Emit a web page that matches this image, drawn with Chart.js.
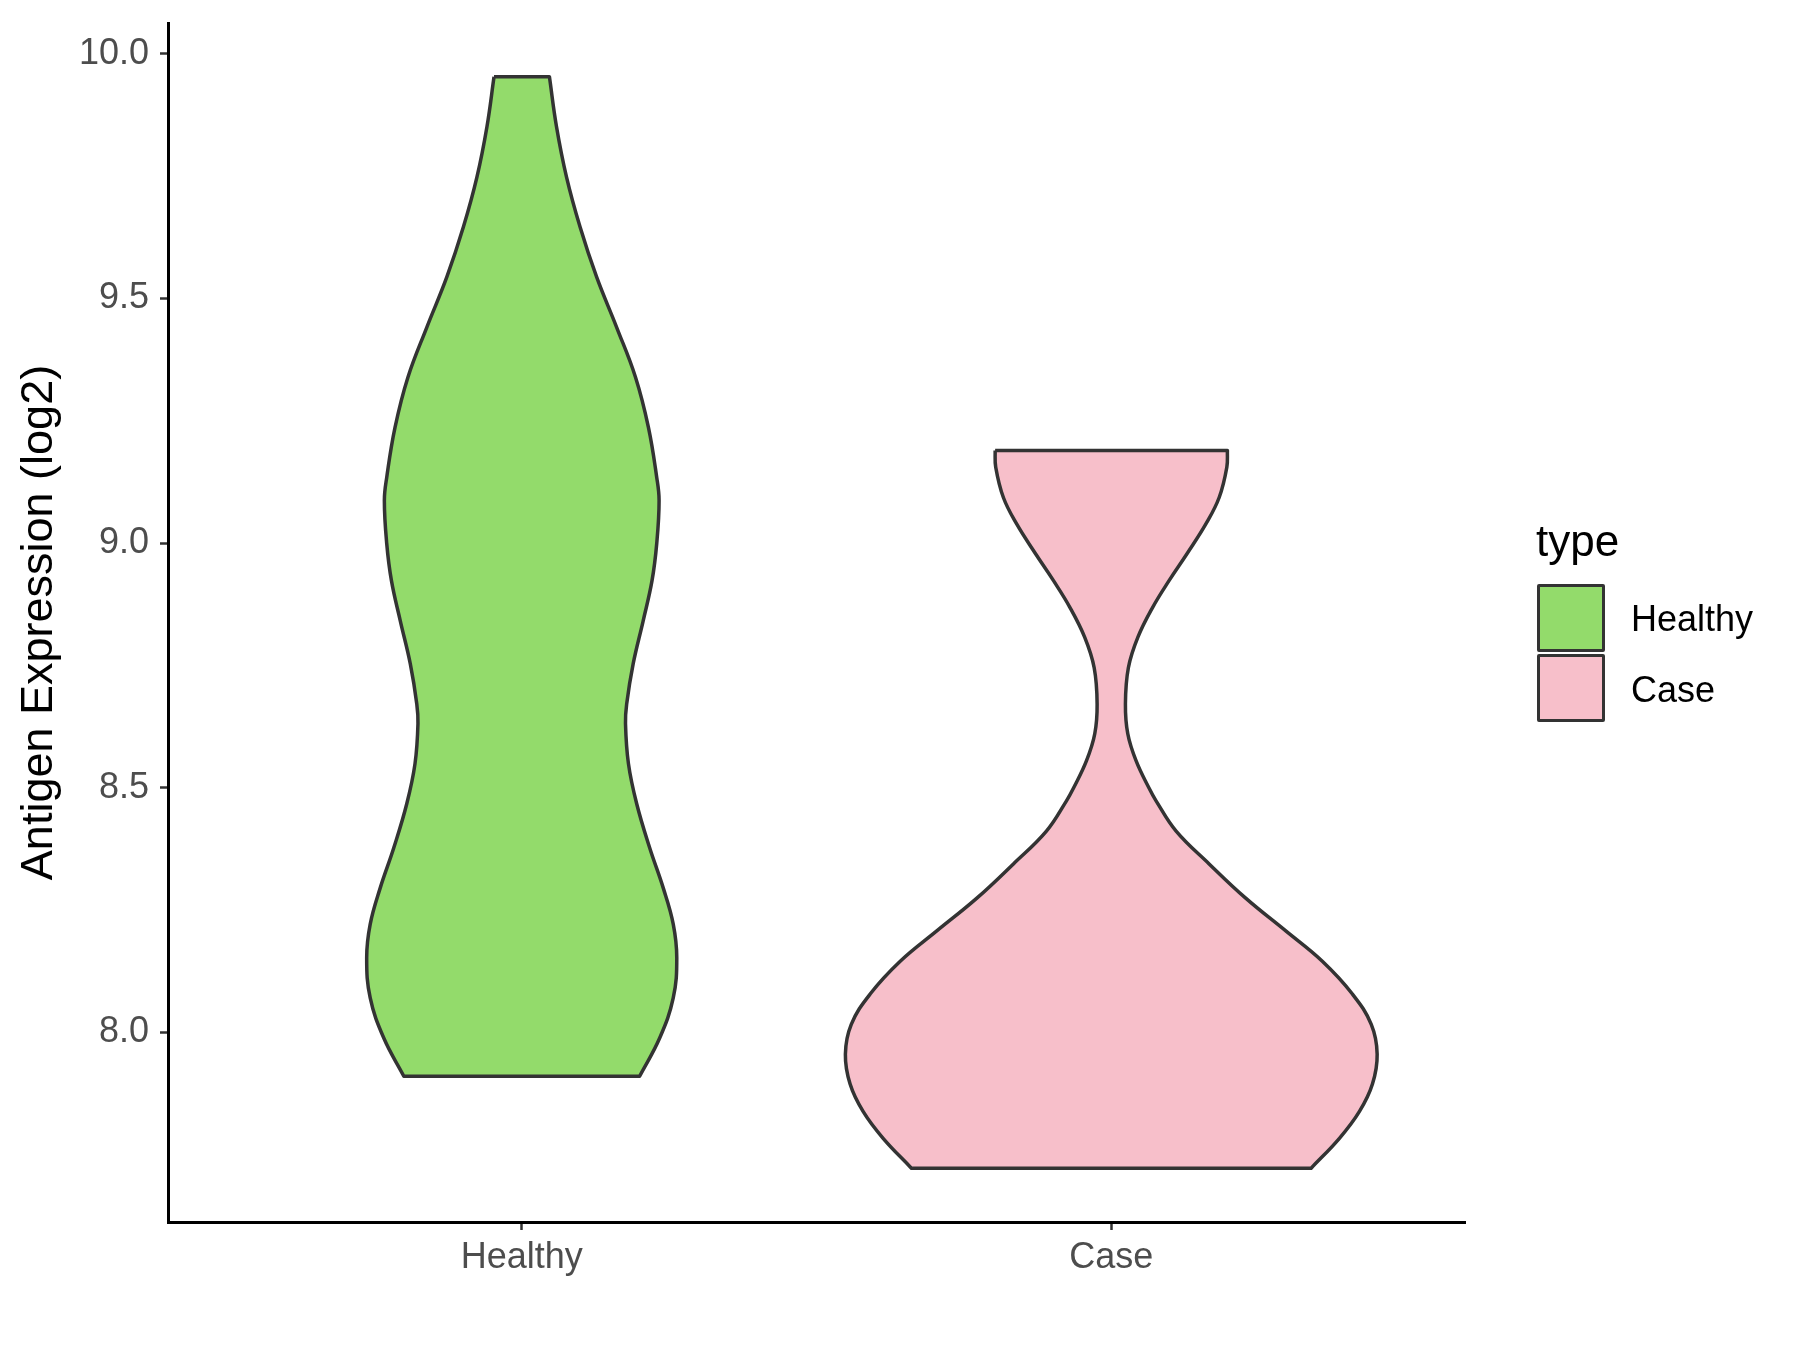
<!DOCTYPE html>
<html>
<head>
<meta charset="utf-8">
<script src="https://cdn.jsdelivr.net/npm/chart.js@4.4.0/dist/chart.umd.min.js"></script>
<style>
  html, body { margin: 0; padding: 0; background: #fff; }
  #wrap { position: relative; width: 1800px; height: 1350px; font-family: 'Liberation Sans', Arial, sans-serif; }
  #chart { position: absolute; left: 0; top: 0; }
  .legend-title { position: absolute; left: 1536px; top: 519px; font-size: 44px; line-height: 44px; color: #000; }
  .legend-key { position: absolute; left: 1537px; width: 62px; height: 62px; border: 3.5px solid #333333; border-radius: 2px; }
  .legend-label { position: absolute; left: 1631px; font-size: 36px; line-height: 36px; color: #000; }
</style>
</head>
<body>
<div id="wrap">
  <canvas id="chart" width="1800" height="1350"></canvas>
  <div class="legend-title">type</div>
  <div class="legend-key" style="top:584px; background:#93DB6B"></div>
  <div class="legend-label" style="top:601px">Healthy</div>
  <div class="legend-key" style="top:654px; background:#F7BFCA"></div>
  <div class="legend-label" style="top:672px">Case</div>
</div>
<script>
const categories = ['Healthy', 'Case'];
const yTicks = [8.0, 8.5, 9.0, 9.5, 10.0];

// violin outlines: expression value and half width (in category units)
const healthyY = [9.953, 9.851, 9.748, 9.646, 9.544, 9.441, 9.339, 9.236, 9.134, 9.087, 8.999, 8.923,
  8.841, 8.753, 8.671, 8.631, 8.549, 8.467, 8.377, 8.295, 8.221, 8.152, 8.070, 7.988, 7.910];
const healthyHalfWidth = [0.047, 0.059, 0.076, 0.099, 0.127, 0.161, 0.193, 0.215, 0.229, 0.233, 0.229, 0.221,
  0.206, 0.189, 0.178, 0.176, 0.181, 0.195, 0.217, 0.240, 0.257, 0.263, 0.257, 0.234, 0.200];

const caseY = [9.189, 9.155, 9.093, 9.040, 8.979, 8.923, 8.868, 8.807, 8.745, 8.671, 8.610, 8.555, 8.499,
  8.473, 8.411, 8.344, 8.274, 8.207, 8.145, 8.078, 8.016, 7.955, 7.894, 7.838, 7.783, 7.722];
const caseHalfWidth = [0.197, 0.196, 0.183, 0.161, 0.129, 0.098, 0.070, 0.045, 0.029, 0.024, 0.028, 0.042, 0.064,
  0.076, 0.110, 0.166, 0.228, 0.296, 0.358, 0.409, 0.441, 0.451, 0.443, 0.421, 0.387, 0.339];

const fills = ['#93DB6B', '#F7BFCA'];

// closed outline: top edge, right side down, bottom edge, left side up
// corners are doubled so the spline keeps them sharp
function violinPoints(center, ys, hws) {
  const R = ys.map((y, i) => ({ x: center + hws[i], y }));
  const L = ys.map((y, i) => ({ x: center - hws[i], y }));
  const n = ys.length;
  return [L[0], R[0], ...R, R[n - 1], L[n - 1], ...L.slice().reverse(), L[0]];
}

const datasets = [
  violinPoints(1, healthyY, healthyHalfWidth),
  violinPoints(2, caseY, caseHalfWidth)
].map((pts, i) => ({
  label: categories[i],
  data: pts,
  showLine: true,
  fill: 'shape',
  backgroundColor: fills[i],
  borderColor: '#333333',
  borderWidth: 3.5,
  borderJoinStyle: 'round',
  tension: 0.4,
  pointRadius: 0,
  pointHoverRadius: 0
}));

const tickFont = { family: "'Liberation Sans', Arial, sans-serif", size: 36 };

new Chart(document.getElementById('chart'), {
  type: 'scatter',
  data: { datasets },
  options: {
    responsive: false,
    animation: false,
    devicePixelRatio: 1,
    layout: { padding: { top: 23, right: 335, left: 0, bottom: 0 } },
    plugins: { legend: { display: false }, tooltip: { enabled: false } },
    scales: {
      x: {
        type: 'linear',
        min: 0.4,
        max: 2.6,
        afterBuildTicks: (scale) => { scale.ticks = categories.map((c, i) => ({ value: i + 1 })); },
        afterFit: (scale) => {
          scale.height = 128;
          scale.paddingLeft = 0;
          scale.paddingRight = 0;
        },
        ticks: {
          font: tickFont,
          color: '#4D4D4D',
          padding: 6.5,
          maxRotation: 0,
          callback: (v) => categories[v - 1]
        },
        grid: { drawOnChartArea: false, drawTicks: true, tickLength: 8, tickColor: '#333333', tickWidth: 2.5 },
        border: { display: true, color: '#000000', width: 3 }
      },
      y: {
        type: 'linear',
        min: 7.612,
        max: 10.063,
        afterBuildTicks: (scale) => { scale.ticks = yTicks.map(v => ({ value: v })); },
        afterFit: (scale) => {
          scale.width = 168;
          scale.paddingTop = 0;
          scale.paddingBottom = 0;
        },
        ticks: {
          font: tickFont,
          color: '#4D4D4D',
          padding: 11,
          callback: (v) => v.toFixed(1)
        },
        title: {
          display: true,
          text: 'Antigen Expression (log2)',
          color: '#000000',
          font: { family: "'Liberation Sans', Arial, sans-serif", size: 45 },
          padding: { top: 13, bottom: 0 }
        },
        grid: { drawOnChartArea: false, drawTicks: true, tickLength: 8, tickColor: '#333333', tickWidth: 2.5 },
        border: { display: true, color: '#000000', width: 3 }
      }
    }
  }
});
</script>
</body>
</html>
